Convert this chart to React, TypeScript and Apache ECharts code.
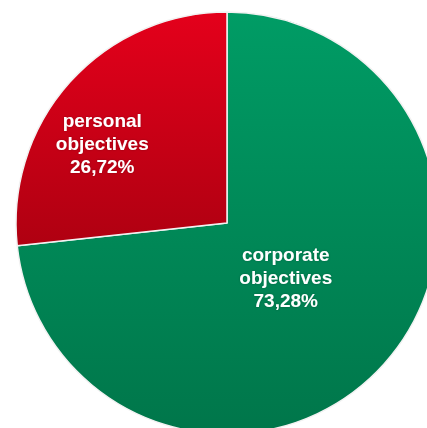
import React, { useEffect, useRef } from "react";
import * as echarts from "echarts";

const categories = ["corporate objectives", "personal objectives"];
const shares = [73.28, 26.72];
const sliceColors = [
  ["#009C65", "#00764A"],
  ["#E4001B", "#AF0011"],
];

export default function App() {
  const ref = useRef<HTMLDivElement>(null);
  useEffect(() => {
    document.body.style.margin = "0";
    const chart = echarts.init(ref.current!, null, { renderer: "svg" });
    chart.setOption({
      animation: false,
      backgroundColor: "#ffffff",
      series: [
        {
          type: "pie",
          center: [227, 223],
          radius: [0, 211],
          startAngle: 90,
          clockwise: true,
          silent: true,
          label: {
            show: true,
            position: "inside",
            color: "#ffffff",
            fontFamily: "Liberation Sans, Arial, sans-serif",
            fontWeight: "bold",
            fontSize: 19,
            lineHeight: 23,
            align: "center",
            textShadowColor: "rgba(0,0,0,0.25)",
            textShadowBlur: 2,
            formatter: (p: any) =>
              String(p.name).replace(" ", "\n") +
              "\n" +
              Number(p.value).toFixed(2).replace(".", ",") +
              "%",
          },
          labelLine: { show: false },
          labelLayout: (p: any) =>
            p.dataIndex === 0 ? { dx: -22, dy: -18 } : { dx: -44, dy: -7 },
          itemStyle: { borderColor: "#f2f2f2", borderWidth: 1.5 },
          data: categories.map((name, i) => ({
            name,
            value: shares[i],
            itemStyle: {
              color: new echarts.graphic.LinearGradient(0, 0, 0, 1, [
                { offset: 0, color: sliceColors[i][0] },
                { offset: 1, color: sliceColors[i][1] },
              ]),
            },
          })),
        },
      ],
    });
    return () => chart.dispose();
  }, []);
  return <div ref={ref} style={{ width: 427, height: 428 }} />;
}
